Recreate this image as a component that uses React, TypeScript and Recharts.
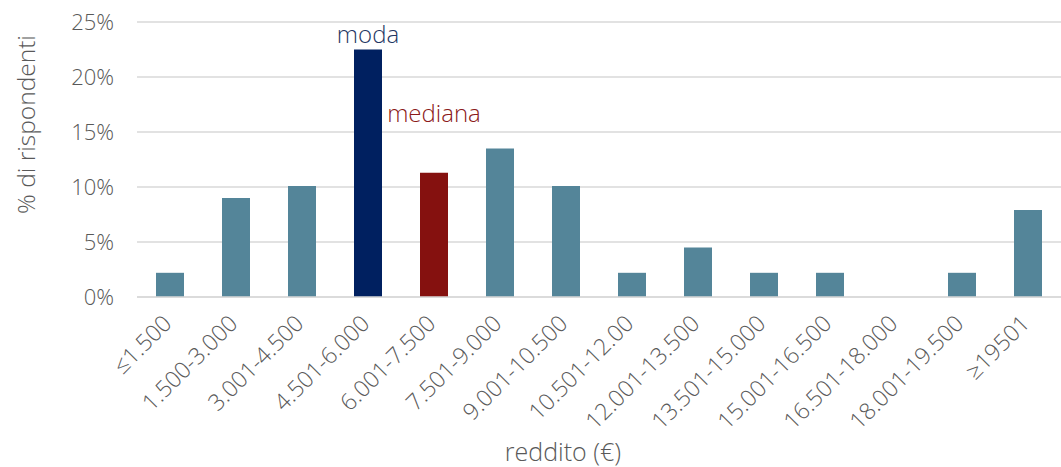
import React from "react";
import { BarChart, Bar, XAxis, YAxis, CartesianGrid, Cell, LabelList } from "recharts";

const categories = ["≤1.500", "1.500-3.000", "3.001-4.500", "4.501-6.000", "6.001-7.500", "7.501-9.000", "9.001-10.500", "10.501-12.00", "12.001-13.500", "13.501-15.000", "15.001-16.500", "16.501-18.000", "18.001-19.500", "≥19501"];
const percentages = [2.2, 9.0, 10.1, 22.5, 11.3, 13.5, 10.1, 2.2, 4.5, 2.2, 2.2, 0, 2.2, 7.9];
const yTicks = [0, 5, 10, 15, 20, 25];
const annotations: Record<number, string> = { 3: "moda", 4: "mediana" };
const barColors: Record<number, string> = { 3: "#002060", 4: "#85110F" };
const annotationColors: Record<number, string> = { 3: "#1F3864", 4: "#8B1A1A" };

const data = categories.map((c, i) => ({ name: c, value: percentages[i] }));

const FONT = "'Open Sans', 'DejaVu Sans', sans-serif";
const GREY = "#595959";
const W = 300;

const XTick = (props: any) => {
  const { x, y, payload } = props;
  return (
    <g transform={`translate(${x + 3},${y + 20})`}>
      <text transform="rotate(-45)" textAnchor="end" fontSize={23} fill={GREY} fontFamily={FONT} fontWeight={W}>
        {payload.value}
      </text>
    </g>
  );
};

const AnnLabel = (props: any) => {
  const { x, y, width, index } = props;
  const t = annotations[index];
  if (!t) return null;
  const dy = index === 3 ? -7 : -51;
  return (
    <text x={x + width / 2} y={y + dy} textAnchor="middle" fontSize={24} fill={annotationColors[index]} fontFamily={FONT} fontWeight={W}>
      {t}
    </text>
  );
};

export default function App() {
  return (
    <div style={{ position: "absolute", left: 0, top: 0, width: 1061, height: 467, background: "#fff" }}>
      <BarChart width={1061} height={467} data={data} margin={{ top: 22, right: 0, bottom: 0, left: 0 }} barSize={28}>
        <CartesianGrid vertical={false} stroke="#d9d9d9" strokeWidth={1.5} />
        <XAxis
          dataKey="name"
          interval={0}
          height={170}
          tick={<XTick />}
          tickLine={false}
          axisLine={{ stroke: "#d9d9d9", strokeWidth: 1.5 }}
          label={{ value: "reddito (€)", position: "insideBottom", offset: 6, dx: -36, fontSize: 25, fill: GREY, fontFamily: FONT, fontWeight: W }}
        />
        <YAxis
          width={137}
          domain={[0, 25]}
          ticks={yTicks}
          tickFormatter={(v: number) => `${v}%`}
          tickLine={false}
          tickSize={0}
          tickMargin={23}
          axisLine={false}
          tick={{ fontSize: 22, fill: GREY, fontFamily: FONT, fontWeight: W }}
          label={{ value: "% di rispondenti", angle: -90, position: "insideLeft", offset: 26, dy: -35, fontSize: 24.5, fill: GREY, fontFamily: FONT, fontWeight: W, textAnchor: "middle" }}
        />
        <Bar dataKey="value" isAnimationActive={false}>
          {data.map((d, i) => (
            <Cell key={d.name} fill={barColors[i] || "#548599"} />
          ))}
          <LabelList dataKey="value" content={<AnnLabel />} />
        </Bar>
      </BarChart>
    </div>
  );
}
